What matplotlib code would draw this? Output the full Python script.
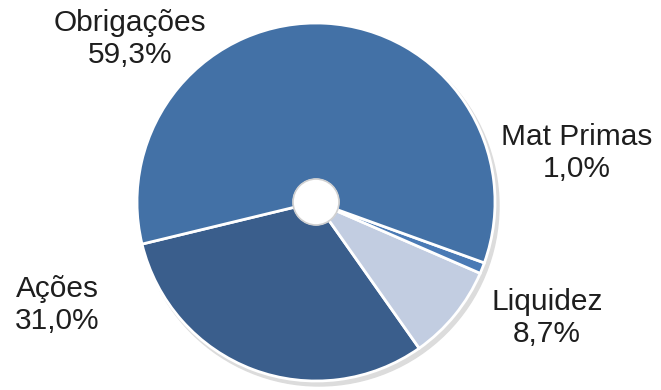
import matplotlib.pyplot as plt
from matplotlib.patches import Circle

plt.rcParams['font.family'] = ['Liberation Sans', 'DejaVu Sans']

labels = ['Ações', 'Liquidez', 'Mat Primas', 'Obrigações']
values = [31.0, 8.7, 1.0, 59.3]
colors = ['#3a5e8c', '#c2cde1', '#4a7ab5', '#4371a6']

# label positions (pixel coords, y from bottom)
label_pos = [(57, 85), (547, 72), (577, 237), (130, 351)]

fig = plt.figure(figsize=(6.61, 3.9), dpi=100)
ax = fig.add_axes([0, 0, 1, 1])

cx, cy, r, hole = 316, 188, 179, 22

# soft shadow behind the ring
ax.add_patch(Circle((cx + 3, cy - 4), r + 1, color='#dcdcdc', zorder=0))

ax.pie(values, colors=colors, startangle=193.6, counterclock=True,
       center=(cx, cy), radius=r, frame=True,
       wedgeprops=dict(width=r - hole, edgecolor='white', linewidth=2))

ax.add_patch(Circle((cx, cy), hole + 1, facecolor='white',
                    edgecolor='#d0d0d0', linewidth=1.2, zorder=5))

ax.set_xlim(0, 661)
ax.set_ylim(0, 390)
ax.set_aspect('equal')
ax.axis('off')

for lab, v, (x, y) in zip(labels, values, label_pos):
    txt = lab + '\n' + f'{v:.1f}'.replace('.', ',') + '%'
    ax.text(x, y, txt, ha='center', va='center', fontsize=21.5,
            color='#1e1e1e', linespacing=1.15)

fig.savefig('out.png', dpi=100)
